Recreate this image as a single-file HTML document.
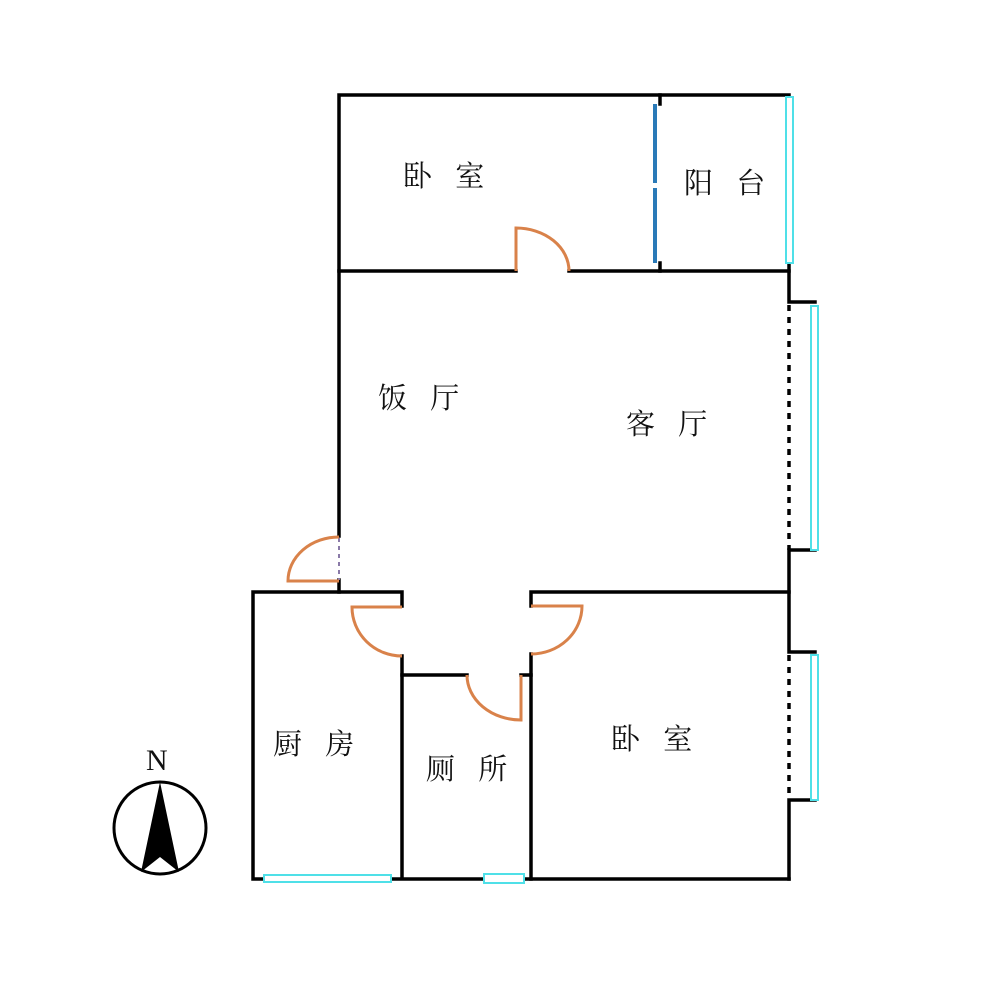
<!DOCTYPE html>
<html><head><meta charset="utf-8"><style>
html,body{margin:0;padding:0;background:#fff;}
text{font-family:"Liberation Serif","Noto Serif CJK SC","Noto Sans CJK SC",serif;font-size:29px;fill:#111;word-spacing:16px;}
</style></head><body>
<svg width="1000" height="994" viewBox="0 0 1000 994" xmlns="http://www.w3.org/2000/svg">
<g stroke="#000" stroke-width="3.5" fill="none" stroke-linecap="square">
<path d="M339 95 H789 V302 H815 M339 95 V536 M339 580 V592"/>
<path d="M339 271 H516 M569 271 H789"/>
<path d="M660 95 V104 M660 263 V271"/>
<path d="M789 550 H815 M789 550 V652 H815 M789 800 H815 M789 800 V879"/>
<path d="M253 592 H402 V606 M402 656 V879 M253 592 V879 H789"/>
<path d="M531 592 H789 M531 592 V606 M531 654 V879"/>
<path d="M402 675 H467 M521 675 H531"/>
</g>
<g stroke="#000" stroke-width="3.5" stroke-dasharray="6,6">
<path d="M789 305 V550 M789 655 V798"/>
</g>
<path d="M339 538 V580" stroke="#8a7aa8" stroke-width="2" stroke-dasharray="4,4"/>
<g stroke="#d9824a" stroke-width="3" fill="none">
<path d="M339 581 H288 A51 44 0 0 1 339 537"/>
<path d="M516 271 V228 A53 43 0 0 1 569 271"/>
<path d="M402 607 H352 A50 49 0 0 0 402 656"/>
<path d="M531 606 H582 A51 48 0 0 1 531 654"/>
<path d="M521 675 V720 A54 45 0 0 1 467 675"/>
</g>
<g stroke="#2a7ab8" stroke-width="4">
<path d="M655 104 V183 M655 188 V263"/>
</g>
<g stroke="#4fe0e8" stroke-width="2" fill="#fff">
<rect x="786" y="97" width="7" height="166"/>
<rect x="811" y="306" width="7" height="244"/>
<rect x="811" y="655" width="7" height="145"/>
<rect x="264" y="875" width="127" height="7"/>
<rect x="484" y="874" width="40" height="9"/>
</g>
<text x="403" y="186">卧 室</text>
<text x="684" y="193">阳 台</text>
<text x="378" y="408">饭 厅</text>
<text x="626" y="434">客 厅</text>
<text x="273" y="754">厨 房</text>
<text x="426" y="779">厕 所</text>
<text x="611" y="749">卧 室</text>
<text x="146" y="770" style="font-size:30px">N</text>
<circle cx="160" cy="828" r="46" stroke="#000" stroke-width="3" fill="none"/>
<path d="M160 782 L141 872 L160 857 L179 872 Z" fill="#000"/>
</svg>
</body></html>
